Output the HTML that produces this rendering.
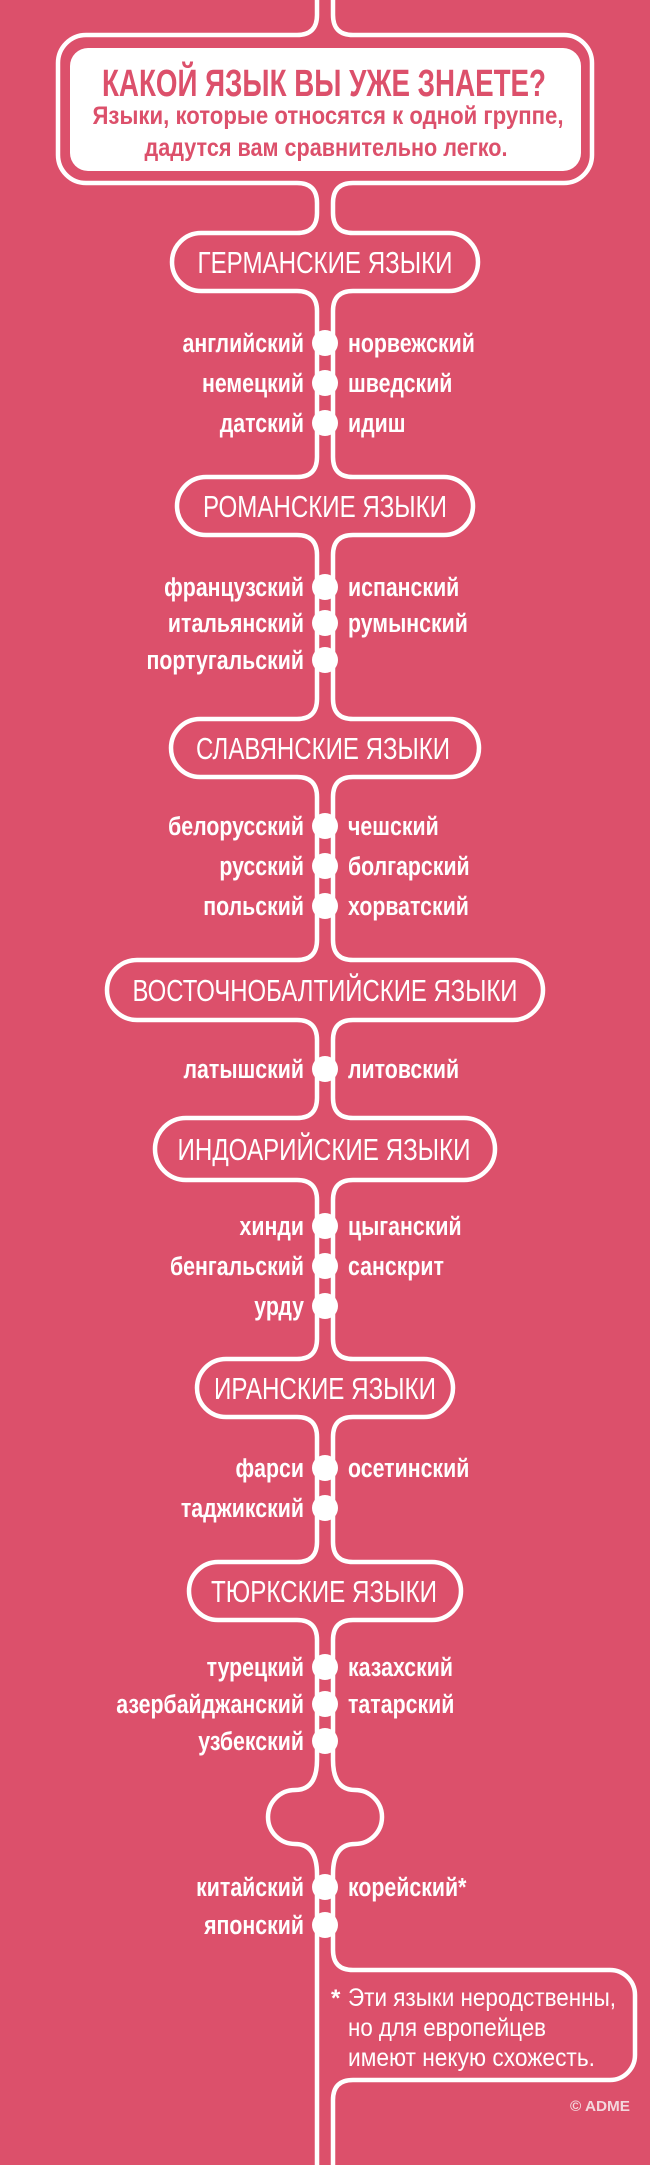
<!DOCTYPE html>
<html><head><meta charset="utf-8"><style>
html,body{margin:0;padding:0;background:#dc506b;}
svg{display:block}
text{font-family:"Liberation Sans Narrow","Liberation Sans",sans-serif;fill:#fff}
.l{font-size:26px;font-weight:bold;text-anchor:end}
.r{font-size:26px;font-weight:bold;text-anchor:start}
.h{font-size:31px;text-anchor:middle}
</style></head><body>
<svg width="650" height="2165" viewBox="0 0 650 2165" xmlns="http://www.w3.org/2000/svg">
<rect width="650" height="2165" fill="#dc506b"/>
<g fill="none" stroke="#fff" stroke-width="4.5">
<path d="M317,0 V15 Q317,35 297,35 H86 A28,28 0 0 0 58,63 V155 A28,28 0 0 0 86,183 H297 Q317,183 317,203
V213 Q317,233 297,233 H201 A29,29 0 0 0 172,262 A29,29 0 0 0 201,291 H297 Q317,291 317,311
V457 Q317,477 297,477 H206 A29,29 0 0 0 177,506 A29,29 0 0 0 206,535 H297 Q317,535 317,555
V699 Q317,719 297,719 H200 A29,29 0 0 0 171,748 A29,29 0 0 0 200,777 H297 Q317,777 317,797
V940 Q317,960 297,960 H137 A30,30 0 0 0 107,990 A30,30 0 0 0 137,1020 H297 Q317,1020 317,1040
V1098 Q317,1118 297,1118 H186 A31,31 0 0 0 155,1149 A31,31 0 0 0 186,1180 H297 Q317,1180 317,1200
V1339 Q317,1359 297,1359 H226 A29,29 0 0 0 197,1388 A29,29 0 0 0 226,1417 H297 Q317,1417 317,1437
V1542 Q317,1562 297,1562 H218 A29,29 0 0 0 189,1591 A29,29 0 0 0 218,1620 H297 Q317,1620 317,1640
V1760 Q317,1790 295,1790 A27,27 0 0 0 268,1817 A27,27 0 0 0 295,1844 Q317,1844 317,1874 V2165"/>
<path d="M333,0 V15 Q333,35 353,35 H564 A28,28 0 0 1 592,63 V155 A28,28 0 0 1 564,183 H353 Q333,183 333,203
V213 Q333,233 353,233 H449 A29,29 0 0 1 478,262 A29,29 0 0 1 449,291 H353 Q333,291 333,311
V457 Q333,477 353,477 H444 A29,29 0 0 1 473,506 A29,29 0 0 1 444,535 H353 Q333,535 333,555
V699 Q333,719 353,719 H450 A29,29 0 0 1 479,748 A29,29 0 0 1 450,777 H353 Q333,777 333,797
V940 Q333,960 353,960 H513 A30,30 0 0 1 543,990 A30,30 0 0 1 513,1020 H353 Q333,1020 333,1040
V1098 Q333,1118 353,1118 H464 A31,31 0 0 1 495,1149 A31,31 0 0 1 464,1180 H353 Q333,1180 333,1200
V1339 Q333,1359 353,1359 H424 A29,29 0 0 1 453,1388 A29,29 0 0 1 424,1417 H353 Q333,1417 333,1437
V1542 Q333,1562 353,1562 H432 A29,29 0 0 1 461,1591 A29,29 0 0 1 432,1620 H353 Q333,1620 333,1640
V1760 Q333,1790 355,1790 A27,27 0 0 1 382,1817 A27,27 0 0 1 355,1844 Q333,1844 333,1874
V1950 Q333,1970 353,1970 H610 A25,25 0 0 1 635,1995 V2055 A25,25 0 0 1 610,2080 H353 Q333,2080 333,2100 V2165"/>
</g>
<rect x="70" y="48" width="511" height="123" rx="18" fill="#fff"/>
<text x="324" y="96" style="font-size:38px;font-weight:bold;fill:#dc506b;text-anchor:middle" textLength="444" lengthAdjust="spacingAndGlyphs">КАКОЙ ЯЗЫК ВЫ УЖЕ ЗНАЕТЕ?</text>
<text x="328" y="124" style="font-size:25px;font-weight:bold;fill:#dc506b;text-anchor:middle" textLength="471" lengthAdjust="spacingAndGlyphs">Языки, которые относятся к одной группе,</text>
<text x="326" y="156" style="font-size:25px;font-weight:bold;fill:#dc506b;text-anchor:middle" textLength="363" lengthAdjust="spacingAndGlyphs">дадутся вам сравнительно легко.</text>

<g fill="#fff">
<circle cx="325" cy="343" r="13"/><circle cx="325" cy="383" r="13"/><circle cx="325" cy="423" r="13"/>
<circle cx="325" cy="587" r="13"/><circle cx="325" cy="623" r="13"/><circle cx="325" cy="660" r="13"/>
<circle cx="325" cy="826" r="13"/><circle cx="325" cy="866" r="13"/><circle cx="325" cy="906" r="13"/>
<circle cx="325" cy="1069" r="13"/>
<circle cx="325" cy="1226" r="13"/><circle cx="325" cy="1266" r="13"/><circle cx="325" cy="1306" r="13"/>
<circle cx="325" cy="1468" r="13"/><circle cx="325" cy="1508" r="13"/>
<circle cx="325" cy="1667" r="13"/><circle cx="325" cy="1704" r="13"/><circle cx="325" cy="1741" r="13"/>
<circle cx="325" cy="1887" r="13"/><circle cx="325" cy="1925" r="13"/>
</g>

<text class="h" x="325" y="273" textLength="255" lengthAdjust="spacingAndGlyphs">ГЕРМАНСКИЕ ЯЗЫКИ</text>
<text class="h" x="325" y="517" textLength="244" lengthAdjust="spacingAndGlyphs">РОМАНСКИЕ ЯЗЫКИ</text>
<text class="h" x="323" y="759" textLength="254" lengthAdjust="spacingAndGlyphs">СЛАВЯНСКИЕ ЯЗЫКИ</text>
<text class="h" x="325" y="1001" textLength="385" lengthAdjust="spacingAndGlyphs">ВОСТОЧНОБАЛТИЙСКИЕ ЯЗЫКИ</text>
<text class="h" x="324" y="1160" textLength="293" lengthAdjust="spacingAndGlyphs">ИНДОАРИЙСКИЕ ЯЗЫКИ</text>
<text class="h" x="325" y="1399" textLength="222" lengthAdjust="spacingAndGlyphs">ИРАНСКИЕ ЯЗЫКИ</text>
<text class="h" x="324" y="1602" textLength="226" lengthAdjust="spacingAndGlyphs">ТЮРКСКИЕ ЯЗЫКИ</text>

<g transform="translate(304,0) scale(0.82,1)">
<text class="l" x="0" y="352">английский</text>
<text class="l" x="0" y="392">немецкий</text>
<text class="l" x="0" y="432">датский</text>
<text class="l" x="0" y="596">французский</text>
<text class="l" x="0" y="632">итальянский</text>
<text class="l" x="0" y="669">португальский</text>
<text class="l" x="0" y="835">белорусский</text>
<text class="l" x="0" y="875">русский</text>
<text class="l" x="0" y="915">польский</text>
<text class="l" x="0" y="1078">латышский</text>
<text class="l" x="0" y="1235">хинди</text>
<text class="l" x="0" y="1275">бенгальский</text>
<text class="l" x="0" y="1315">урду</text>
<text class="l" x="0" y="1477">фарси</text>
<text class="l" x="0" y="1517">таджикский</text>
<text class="l" x="0" y="1676">турецкий</text>
<text class="l" x="0" y="1713">азербайджанский</text>
<text class="l" x="0" y="1750">узбекский</text>
<text class="l" x="0" y="1896">китайский</text>
<text class="l" x="0" y="1934">японский</text>
</g>
<g transform="translate(348,0) scale(0.82,1)">
<text class="r" x="0" y="352">норвежский</text>
<text class="r" x="0" y="392">шведский</text>
<text class="r" x="0" y="432">идиш</text>
<text class="r" x="0" y="596">испанский</text>
<text class="r" x="0" y="632">румынский</text>
<text class="r" x="0" y="835">чешский</text>
<text class="r" x="0" y="875">болгарский</text>
<text class="r" x="0" y="915">хорватский</text>
<text class="r" x="0" y="1078">литовский</text>
<text class="r" x="0" y="1235">цыганский</text>
<text class="r" x="0" y="1275">санскрит</text>
<text class="r" x="0" y="1477">осетинский</text>
<text class="r" x="0" y="1676">казахский</text>
<text class="r" x="0" y="1713">татарский</text>
<text class="r" x="0" y="1896">корейский*</text>
</g>

<text x="331" y="2006" style="font-size:24px;font-weight:bold">*</text>
<text x="348" y="2006" style="font-size:25px" textLength="268" lengthAdjust="spacingAndGlyphs">Эти языки неродственны,</text>
<text x="348" y="2036" style="font-size:25px" textLength="198" lengthAdjust="spacingAndGlyphs">но для европейцев</text>
<text x="348" y="2066" style="font-size:25px" textLength="247" lengthAdjust="spacingAndGlyphs">имеют некую схожесть.</text>

<text x="570" y="2111" style="font-size:15px;font-weight:bold;fill:#f3d6dc" textLength="60" lengthAdjust="spacingAndGlyphs">© ADME</text>
</svg>
</body></html>
